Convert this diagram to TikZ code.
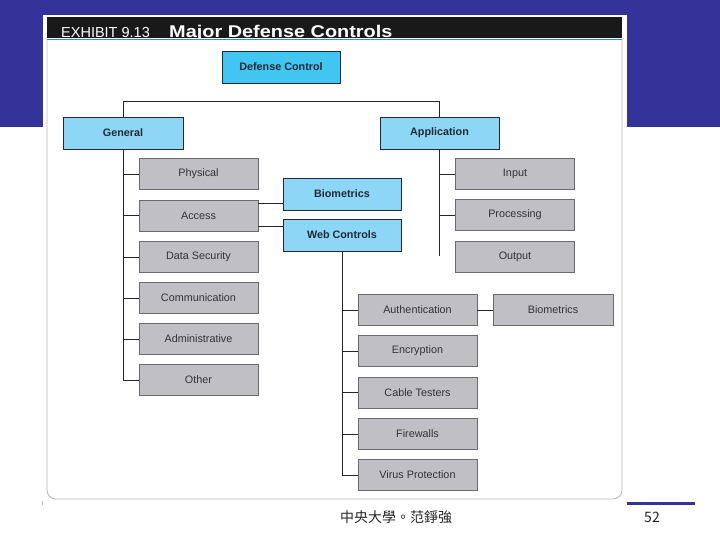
\documentclass[tikz,border=0pt]{standalone}
\usepackage{fontspec}
\usepackage{graphicx}
\setmainfont{Liberation Sans}
\newfontfamily\cjkfont[Script=CJK,Language=Chinese Traditional]{Noto Sans CJK TC}
\usetikzlibrary{positioning,calc}

\definecolor{slideblue}{RGB}{51,51,153}
\definecolor{topcyan}{RGB}{64,198,240}
\definecolor{lightcyan}{RGB}{142,214,245}
\definecolor{boxgray}{RGB}{192,192,196}
\definecolor{edgegray}{RGB}{105,105,112}
\definecolor{darkedge}{RGB}{35,40,55}
\definecolor{tealline}{RGB}{40,150,180}
\definecolor{framegray}{RGB}{185,185,190}

\tikzset{
  topbox/.style={draw=darkedge,line width=0.8pt,fill=topcyan,minimum width=118pt,minimum height=32pt,inner sep=0pt,font=\fontsize{10.8}{12}\selectfont\bfseries,text=darkedge},
  bluebox/.style={topbox,fill=lightcyan},
  graybox/.style={draw=edgegray,line width=0.7pt,fill=boxgray,minimum width=119pt,minimum height=31pt,inner sep=0pt,font=\fontsize{10.8}{12}\selectfont,text=black!80},
  link/.style={line width=0.8pt,black!85}
}

\begin{document}
\begin{tikzpicture}[x=1pt,y=-1pt]
\useasboundingbox (0,0) rectangle (720,540);
% slide background
\fill[slideblue] (0,0) rectangle (720,127);
\fill[white] (43,15) rectangle (627,500);
\draw[framegray,line width=0.8pt,rounded corners=9pt] (47,40) -- (47,499) -- (622,499) -- (622,40);
\fill[black!90] (47,17) rectangle (622,38);
\node (exh) at (61,37.5) [anchor=base west,inner sep=0pt,text=white,font=\fontsize{14.5}{16}\selectfont] {EXHIBIT 9.13};
\node (ttl) at (169,37.5) [anchor=base west,inner sep=0pt,text=white,font=\fontsize{17}{19}\selectfont\bfseries] {\scalebox{1.17}[1]{Major Defense Controls}};
\draw[tealline,line width=1.6pt] (47,39.5) -- (622,39.5);

% boxes
\node (dc) at (281,67) [topbox] {Defense Control};
\node (gen) at (123,133) [bluebox,minimum width=120pt] {General};
\node (app) at (439.5,133) [bluebox,minimum width=119pt] {Application};

\node (phy) at (198.5,174) [graybox] {Physical};
\node (acc) at (198.5,215.5) [graybox] {Access};
\node (dat) at (198.5,257) [graybox] {Data Security};
\node (com) at (198.5,298) [graybox] {Communication};
\node (adm) at (198.5,339) [graybox] {Administrative};
\node (oth) at (198.5,380) [graybox] {Other};

\node (bio) at (342,194) [bluebox] {Biometrics};
\node (web) at (342,235) [bluebox] {Web Controls};

\node (inp) at (515,174) [graybox] {Input};
\node (pro) at (515,215) [graybox] {Processing};
\node (out) at (515,256.5) [graybox] {Output};

\node (aut) at (417.5,310) [graybox] {Authentication};
\node (enc) at (417.5,351) [graybox] {Encryption};
\node (cab) at (417.5,392.5) [graybox] {Cable Testers};
\node (fir) at (417.5,434) [graybox] {Firewalls};
\node (vir) at (417.5,475) [graybox] {Virus Protection};
\node (bio2) at (553,310) [graybox,minimum width=120pt] {Biometrics};

% connectors
\draw[link] (gen.north) -- ++(0,-15) -| (app.north);

\draw[link] (gen.south) |- (oth.west);
\foreach \n in {phy,acc,dat,com,adm}
  \draw[link] (gen.south |- \n.west) -- (\n.west);

\draw[link] ([yshift=12.5pt]acc.east) -- ++(25,0);
\draw[link] ([yshift=-10.5pt]acc.east) -- ++(25,0);

\draw[link] (app.south) -- ++(0,107);
\foreach \n in {inp,pro}
  \draw[link] (app.south |- \n.west) -- (\n.west);

\draw[link] (web.south) |- (vir.west);
\foreach \n in {aut,enc,cab,fir}
  \draw[link] (web.south |- \n.west) -- (\n.west);
\draw[link] (aut) -- (bio2);

% footer
\draw[framegray,line width=0.8pt] (42,501) -- (42,505);
\draw[slideblue,line width=3pt] (627,503.5) -- (695,503.5);
\node (ftr) at (396,517) [text=black!85,font=\cjkfont\fontsize{14}{16}\selectfont] {中央大學。范錚強};
\node (pg) at (652,517) [text=black!85,font=\cjkfont\fontsize{14}{16}\selectfont] {52};
\end{tikzpicture}
\end{document}
